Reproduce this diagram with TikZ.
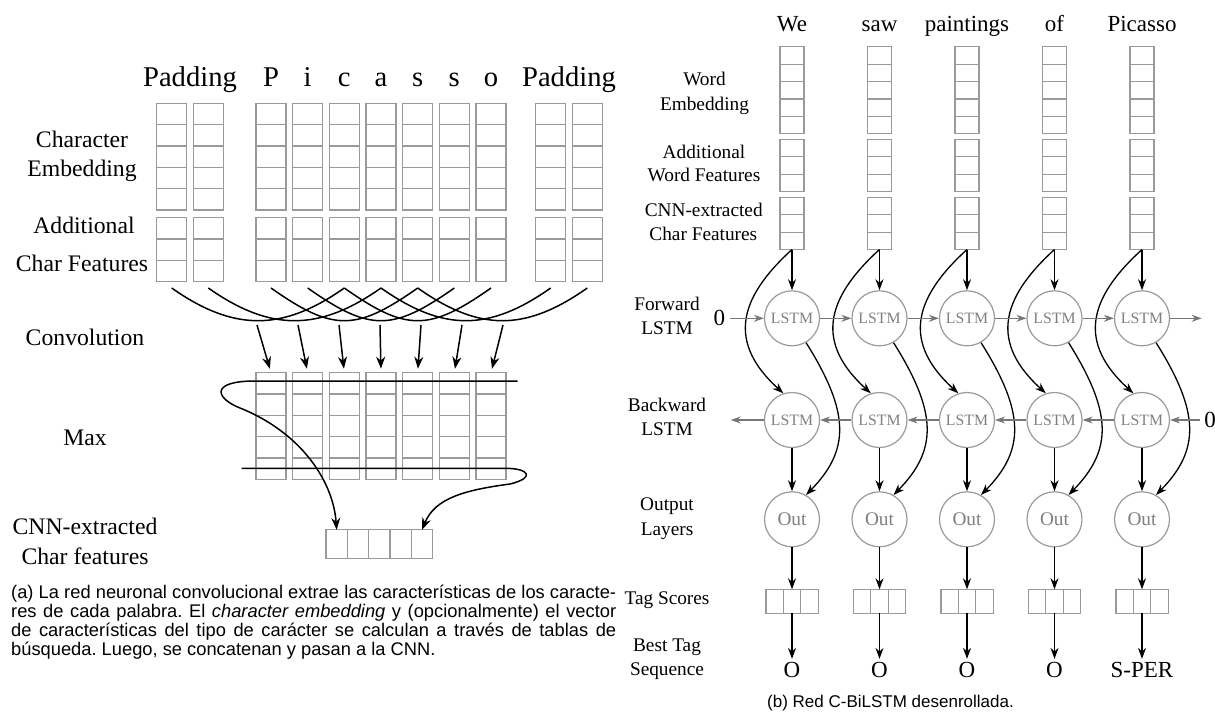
\documentclass[tikz,border=0pt]{standalone}
\usepackage{fontspec}
\setmainfont{Liberation Serif}
\newfontfamily\capfont{Liberation Sans}
\usetikzlibrary{arrows.meta}
\definecolor{boxgray}{HTML}{9A9A9A}
\definecolor{circgray}{HTML}{9A9A9A}
\definecolor{txtgray}{HTML}{7F7F7F}
\definecolor{arrgray}{HTML}{777777}
\newcommand{\setfs}[1]{\fontsize{#1pt}{#1pt}\selectfont}
\frenchspacing
\begin{document}
\frenchspacing
\begin{tikzpicture}[x=1pt,y=-1pt,
  frame/.style={draw=boxgray, line width=1.3pt, inner sep=0pt, outer sep=0pt},
  divline/.style={draw=boxgray, line width=1.3pt},
  unitnode/.style={circle, draw=circgray, line width=1.2pt, minimum size=55pt, inner sep=0pt, text=txtgray},
  convline/.style={line width=1.5pt},
  larrow/.style={line width=1.5pt, -{Stealth[length=12pt,width=9pt]}},
  barrow/.style={line width=1.3pt, -{Stealth[length=11pt,width=8pt]}},
  garrow/.style={draw=arrgray, line width=1.3pt, -{Stealth[length=10pt,width=7pt]}},
  bigtxt/.style={inner sep=0pt, font=\setfs{28.6}},
  llab/.style={inner sep=0pt, font=\setfs{23.7}},
  rlab/.style={inner sep=0pt, font=\setfs{19.3}},
  wordtxt/.style={inner sep=0pt, font=\setfs{23}},
  captxt/.style={inner sep=0pt, font=\capfont\setfs{18.3}},
]
\useasboundingbox (0,0) rectangle (1215,713);

% ================= LEFT (a) =================
\node[bigtxt, anchor=base] (padL) at (190,86.7) {Padding};
\foreach \ch/\x [count=\k] in {P/271,i/307.7,c/344.3,a/381,s/417.7,s/454.3,o/491}
  \node[bigtxt, anchor=base] (ch\k) at (\x,86.7) {\ch};
\node[bigtxt, anchor=base] (padR) at (569,86.7) {Padding};

\node[llab, anchor=base] (l1) at (82,147.7) {Character};
\node[llab, anchor=base] (l2) at (82,176.7) {Embedding};
\node[llab, anchor=base] (l3) at (84,233.3) {Additional};
\node[llab, anchor=base] (l4) at (82,271) {Char Features};
\node[llab, anchor=base] (l5) at (85,345) {Convolution};
\node[llab, anchor=base] (l6) at (85,445) {Max};
\node[llab, anchor=base] (l7) at (85,534) {CNN-extracted};
\node[llab, anchor=base] (l8) at (85,564) {Char features};

% input columns
\foreach \x [count=\i from 0] in {171.7,208.3,271,307.7,344.3,381,417.7,454.3,491,550.7,587.3} {
  \node[frame, minimum width=30pt, minimum height=106.67pt] (e\i) at (\x, 156.67) {};
  \foreach \r in {1,...,4}
    \draw[divline] (e\i.north west) ++(0,\r*21.33) -- ++(30,0);
  \node[frame, minimum width=30pt, minimum height=64pt] (f\i) at (\x, 249.7) {};
  \foreach \r in {1,2}
    \draw[divline] (f\i.north west) ++(0,\r*21.33) -- ++(30,0);
  \coordinate (in\i) at (\x, 288);
}
% convolution windows
\foreach \a/\b in {0/4,1/5,2/6,3/7,4/8,5/9,6/10}
  \draw[convline] (in\a) .. controls +(62,43.6) and +(-62,43.6) .. (in\b);

% max columns
\foreach \k in {0,...,6} {
  \node[frame, minimum width=30pt, minimum height=106.67pt] (m\k) at (271+\k*36.67, 426) {};
  \foreach \r in {1,...,4}
    \draw[divline] (m\k.north west) ++(0,\r*21.33) -- ++(30,0);
  \coordinate (s\k) at (257+\k*41, 325);
  \draw[larrow, shorten >=4pt] (s\k) -- (m\k.north);
}

% CNN-extracted vector
\node[frame, minimum width=106.67pt, minimum height=28.4pt] (cnn) at (379.3, 544) {};
\foreach \k in {1,...,4}
  \draw[divline] (cnn.north west) ++(\k*21.33,0) -- ++(0,28.4);
\coordinate (cnnA) at (336.67,529.8);
\coordinate (cnnB) at (422,529.8);

% max lines
\coordinate (topR) at (517.7,381);
\coordinate (topL) at (255,381);
\draw[larrow] (topR) -- (topL) .. controls (210,381) and (215,398) .. (240,408)
  .. controls (300,432) and (333,480) .. (cnnA);
\coordinate (botL) at (241.7,468.3);
\coordinate (botR) at (505,468.3);
\draw[larrow] (botL) -- (botR) .. controls (530,468.3) and (535,478) .. (510,484)
  .. controls (465,490) and (435,498) .. (cnnB);

% caption (a)
\node[captxt, anchor=base west] (capa1) at (11,598) {\makebox[605pt][s]{(a) La red neuronal convolucional extrae las características de los caracte-}};
\node[captxt, anchor=base west] (capa2) at (11,617.2) {\makebox[605pt][s]{res de cada palabra. El \textit{character embedding} y (opcionalmente) el vector}};
\node[captxt, anchor=base west] (capa3) at (11,636.4) {\makebox[605pt][s]{de características del tipo de carácter se calculan a través de tablas de}};
\node[captxt, anchor=base west] (capa4) at (11,655.6) {búsqueda. Luego, se concatenan y pasan a la CNN.};

% ================= RIGHT (b) =================
\node[rlab, anchor=base] (r1) at (704.5,85) {Word};
\node[rlab, anchor=base] (r2) at (704.5,110) {Embedding};
\node[rlab, anchor=base] (r3) at (704,158.3) {Additional};
\node[rlab, anchor=base] (r4) at (704,181.7) {Word Features};
\node[rlab, anchor=base] (r5) at (703.7,216.7) {CNN-extracted};
\node[rlab, anchor=base] (r6) at (703.3,240) {Char Features};
\node[rlab, anchor=base] (r7) at (667,310) {Forward};
\node[rlab, anchor=base] (r8) at (667,334) {LSTM};
\node[rlab, anchor=base] (r9) at (667,411.7) {Backward};
\node[rlab, anchor=base] (r10) at (667,435.7) {LSTM};
\node[rlab, anchor=base] (r11) at (667,510.7) {Output};
\node[rlab, anchor=base] (r12) at (667,535) {Layers};
\node[rlab, anchor=base] (r13) at (667,604) {Tag Scores};
\node[rlab, anchor=base] (r14) at (667,651.7) {Best Tag};
\node[rlab, anchor=base] (r15) at (667,675) {Sequence};

\foreach \cx/\w/\t [count=\i] in {792/We/O, 879.5/saw/O, 967/paintings/O, 1054.5/of/O, 1142/Picasso/S-PER} {
  \node[wordtxt, anchor=base] (w\i) at (\cx,31.7) {\w};
  \node[frame, line width=1.2pt, minimum width=24pt, minimum height=87pt] (we\i) at (\cx, 90.2) {};
  \foreach \r in {1,...,4}
    \draw[divline, line width=1.2pt] (we\i.north west) ++(0,\r*17.4) -- ++(24,0);
  \node[frame, line width=1.2pt, minimum width=24pt, minimum height=52.2pt] (aw\i) at (\cx, 165.4) {};
  \foreach \r in {1,2}
    \draw[divline, line width=1.2pt] (aw\i.north west) ++(0,\r*17.4) -- ++(24,0);
  \node[frame, line width=1.2pt, minimum width=24pt, minimum height=52.2pt] (cf\i) at (\cx, 223.4) {};
  \foreach \r in {1,2}
    \draw[divline, line width=1.2pt] (cf\i.north west) ++(0,\r*17.4) -- ++(24,0);
  \node[unitnode, font=\setfs{15.8}] (fw\i) at (\cx,318.3) {LSTM};
  \node[unitnode, font=\setfs{15.8}] (bw\i) at (\cx,420) {LSTM};
  \node[unitnode, font=\setfs{19.3}] (out\i) at (\cx,519.3) {Out};
  \node[frame, line width=1.2pt, minimum width=52.2pt, minimum height=24pt] (ts\i) at (\cx,601.3) {};
  \foreach \k in {1,2}
    \draw[divline, line width=1.2pt] (ts\i.north west) ++(\k*17.4,0) -- ++(0,24);
  \node[wordtxt, anchor=base, inner ysep=3pt] (t\i) at (\cx,677.3) {\t};
  \draw[barrow] (cf\i.south) -- (fw\i.north);
  \draw[barrow] (cf\i.south) .. controls +(-55,50) and +(-55,-50) .. (bw\i.108);
  \draw[barrow] (fw\i.-60) .. controls +(44,70) and +(44,-45) .. (out\i.60);
  \draw[barrow] (bw\i.south) -- (out\i.north);
  \draw[barrow] (out\i.south) -- (ts\i.north);
  \draw[barrow] (ts\i.south) -- (t\i.north);
}

% recurrent connections
\node[wordtxt, inner sep=5pt] (z1) at (719.3,318.3) {0};
\node[wordtxt, inner sep=4.5pt] (z2) at (1210,420) {0};
\coordinate (fend) at (1201.7,318.3);
\coordinate (bend) at (730.7,420);
\draw[garrow] (z1) -- (fw1);
\foreach \i/\j in {1/2,2/3,3/4,4/5} {
  \draw[garrow] (fw\i) -- (fw\j);
  \draw[garrow] (bw\j) -- (bw\i);
}
\draw[garrow] (fw5) -- (fend);
\draw[garrow] (z2) -- (bw5);
\draw[garrow] (bw1) -- (bend);

% caption (b)
\node[captxt, anchor=base, font=\capfont\setfs{17}] (capb) at (890.5,707) {(b) Red C-BiLSTM desenrollada.};
\end{tikzpicture}
\end{document}
